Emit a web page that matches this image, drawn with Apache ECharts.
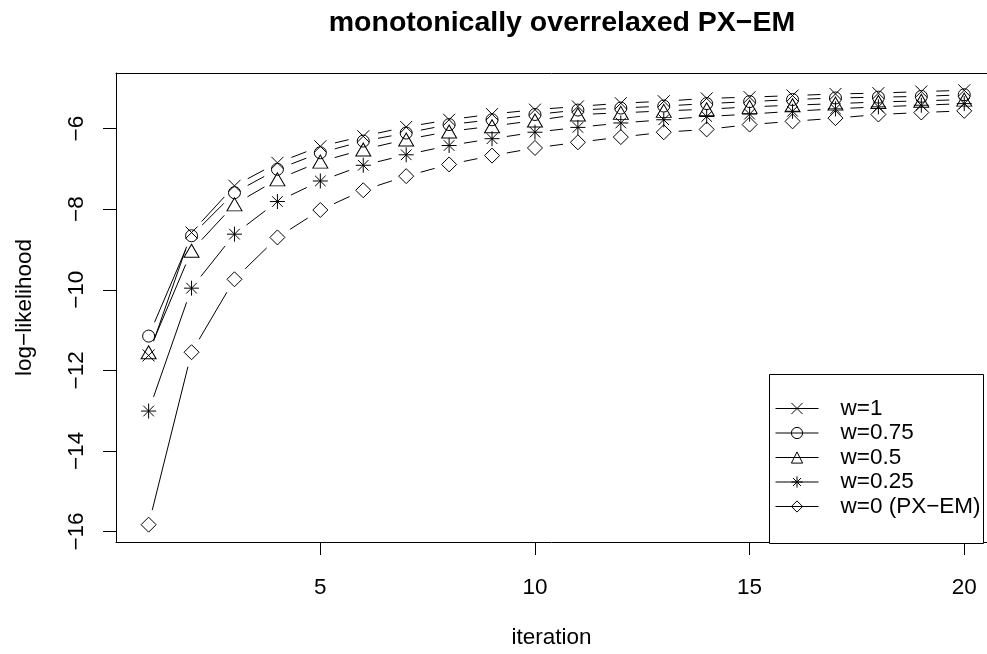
<!DOCTYPE html>
<html>
<head>
<meta charset="utf-8">
<script src="https://cdn.jsdelivr.net/npm/echarts@6/dist/echarts.min.js"></script>
<style>
  html, body { margin: 0; padding: 0; background: #fff; }
  #chart { width: 987px; height: 654px; }
</style>
</head>
<body>
<div id="chart"></div>
<script>
// iteration index
const iter = [1, 2, 3, 4, 5, 6, 7, 8, 9, 10, 11, 12, 13, 14, 15, 16, 17, 18, 19, 20]

// log-likelihood per weight
const w1   = [-11.63, -8.58, -7.42, -6.85, -6.44, -6.19, -5.96, -5.78, -5.64, -5.53, -5.45, -5.37, -5.32, -5.25, -5.22, -5.18, -5.14, -5.12, -5.08, -5.05]
const w075 = [-11.15, -8.66, -7.59, -7.01, -6.60, -6.31, -6.11, -5.90, -5.78, -5.65, -5.54, -5.49, -5.44, -5.38, -5.33, -5.28, -5.24, -5.22, -5.20, -5.16]
const w05  = [-11.55, -9.03, -7.88, -7.26, -6.82, -6.52, -6.27, -6.07, -5.94, -5.80, -5.65, -5.61, -5.56, -5.52, -5.46, -5.42, -5.38, -5.34, -5.31, -5.28]
const w025 = [-13.01, -9.96, -8.62, -7.81, -7.30, -6.91, -6.65, -6.42, -6.25, -6.09, -5.97, -5.86, -5.78, -5.70, -5.64, -5.57, -5.51, -5.46, -5.42, -5.38]
const w0   = [-15.83, -11.55, -9.74, -8.70, -8.02, -7.53, -7.18, -6.89, -6.67, -6.48, -6.34, -6.21, -6.09, -6.02, -5.90, -5.82, -5.74, -5.65, -5.60, -5.56]

const names  = ['w=1', 'w=0.75', 'w=0.5', 'w=0.25', 'w=0 (PX\u2212EM)']
const xTicks = [5, 10, 15, 20]
const yTicks = [-16, -14, -12, -10, -8, -6]

const FONT = 'Liberation Sans, Arial, sans-serif'
const FS = 22.5
const GAP = 15 // R type="b" leaves a gap round each point

const SYMBOLS = [
  { symbol: 'path://M0,0L10,10M10,0L0,10', size: 12 },
  { symbol: 'circle', size: 12 },
  { symbol: 'triangle', size: [15, 13] },
  { symbol: 'path://M5,0L5,10M0,5L10,5M1.46,1.46L8.54,8.54M8.54,1.46L1.46,8.54', size: 15 },
  { symbol: 'diamond', size: [15, 15] },
]

const groups = [w1, w075, w05, w025, w0]

// R pads the range by 4%; the plot's right edge runs off the image, so the
// visible x range stops short of the padded maximum
const xMin = 0.24, xMax = 20.53
const yMin = -16.26, yMax = -4.62

const minus = v => String(v).replace('-', '\u2212')

const chart = echarts.init(document.getElementById('chart'))

const series = []
groups.forEach((ys, k) => {
  // gapped connecting segments
  series.push({
    type: 'custom',
    silent: true,
    data: iter.slice(1).map((x, i) => [iter[i], ys[i], x, ys[i + 1]]),
    encode: { x: [0, 2], y: [1, 3] },
    renderItem(params, api) {
      const a = api.coord([api.value(0), api.value(1)])
      const b = api.coord([api.value(2), api.value(3)])
      const dx = b[0] - a[0], dy = b[1] - a[1]
      const L = Math.hypot(dx, dy)
      if (L <= 2 * GAP) return null
      const ux = dx / L, uy = dy / L
      return {
        type: 'line',
        shape: { x1: a[0] + ux * GAP, y1: a[1] + uy * GAP, x2: b[0] - ux * GAP, y2: b[1] - uy * GAP },
        style: { stroke: '#000', lineWidth: 1 },
      }
    },
  })
  // the points
  series.push({
    type: 'line',
    name: names[k],
    data: iter.map((x, i) => [x, ys[i]]),
    symbol: SYMBOLS[k].symbol,
    symbolSize: SYMBOLS[k].size,
    showSymbol: true,
    showAllSymbol: true,
    lineStyle: { opacity: 0 },
    itemStyle: { color: 'rgba(0,0,0,0)', borderColor: '#000', borderWidth: 1 },
    emphasis: { disabled: true },
    z: 3,
  })
})

const axisLine = { show: true, onZero: false, lineStyle: { color: '#000', width: 1 } }

chart.setOption({
  animation: false,
  backgroundColor: '#fff',
  textStyle: { fontFamily: FONT },
  title: {
    text: 'monotonically overrelaxed PX\u2212EM',
    left: 557, top: 4,
    textAlign: 'center',
    textStyle: { fontFamily: FONT, fontWeight: 'bold', fontSize: 28.5, color: '#000' },
  },
  grid: {
    left: 116, right: 0, top: 73, bottom: 111,
    show: false,
    containLabel: false,
  },
  xAxis: [
    {
      type: 'value',
      position: 'bottom',
      min: xMin, max: xMax,
      name: 'iteration',
      nameLocation: 'middle',
      nameGap: 84,
      nameTextStyle: { fontFamily: FONT, fontSize: FS, color: '#000' },
      axisLine,
      axisTick: { show: true, inside: false, length: 13, lineStyle: { color: '#000' }, customValues: xTicks },
      axisLabel: { fontFamily: FONT, fontSize: FS, color: '#000', margin: 34, customValues: xTicks },
      splitLine: { show: false },
    },
    {
      // top edge of the plot box
      type: 'value',
      position: 'top',
      min: xMin, max: xMax,
      axisLine,
      axisTick: { show: false },
      axisLabel: { show: false },
      splitLine: { show: false },
    },
  ],
  yAxis: {
    type: 'value',
    min: yMin, max: yMax,
    name: 'log\u2212likelihood',
    nameLocation: 'middle',
    nameRotate: 90,
    nameGap: 80,
    nameTextStyle: { fontFamily: FONT, fontSize: FS, color: '#000' },
    axisLine,
    axisTick: { show: true, inside: false, length: 13, lineStyle: { color: '#000' }, customValues: yTicks },
    axisLabel: {
      fontFamily: FONT, fontSize: FS, color: '#000', margin: 28, rotate: 90,
      customValues: yTicks, formatter: v => minus(v),
    },
    splitLine: { show: false },
  },
  legend: {
    orient: 'vertical',
    left: 775, top: 397,
    padding: 0,
    itemWidth: 43, itemHeight: 14, itemGap: 1.5,
    data: names,
    selectedMode: false,
    textStyle: { fontFamily: FONT, fontSize: FS, lineHeight: 22.5, color: '#000', padding: [0, 0, 0, 17] },
    itemStyle: { color: 'rgba(0,0,0,0)', borderColor: '#000', borderWidth: 1 },
    lineStyle: { color: '#000', width: 1, opacity: 1, type: 'solid' },
    z: 10,
  },
  graphic: [{
    type: 'rect',
    z: 5,
    shape: { x: 769.5, y: 374.5, width: 214, height: 169 },
    style: { fill: '#fff', stroke: '#000', lineWidth: 1 },
  }],
  series,
})
</script>
</body>
</html>
